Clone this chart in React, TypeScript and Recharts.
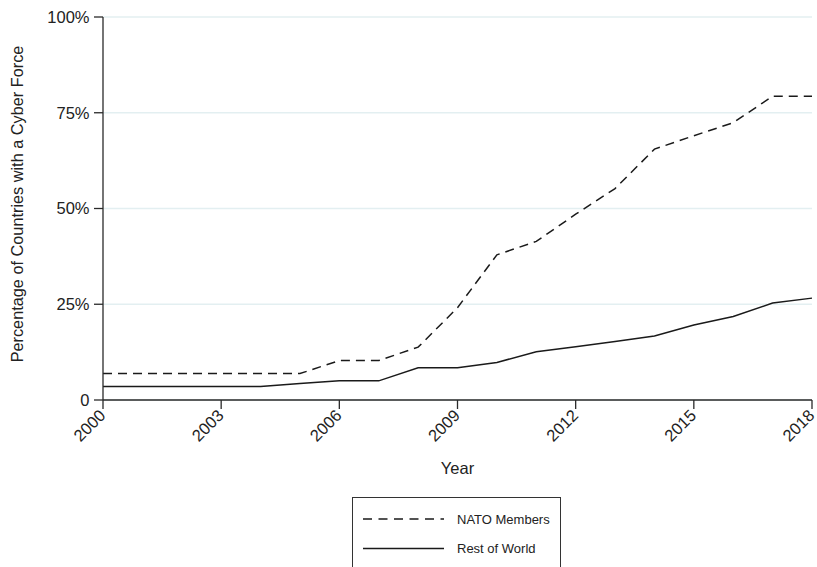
import React from "react";
import { LineChart, Line, XAxis, YAxis, CartesianGrid } from "recharts";

const years = [2000, 2001, 2002, 2003, 2004, 2005, 2006, 2007, 2008, 2009, 2010, 2011, 2012, 2013, 2014, 2015, 2016, 2017, 2018];
const natoMembers = [6.9, 6.9, 6.9, 6.9, 6.9, 6.9, 10.3, 10.3, 13.8, 24.1, 37.9, 41.4, 48.5, 55.2, 65.5, 69.0, 72.4, 79.3, 79.3];
const restOfWorld = [3.5, 3.5, 3.5, 3.5, 3.5, 4.3, 5.0, 5.0, 8.4, 8.4, 9.8, 12.6, 13.9, 15.3, 16.7, 19.6, 21.8, 25.3, 26.6];
const xTicks = [2000, 2003, 2006, 2009, 2012, 2015, 2018];
const yTicks = [0, 25, 50, 75, 100];
const seriesNames = ["NATO Members", "Rest of World"];

const data = years.map((y, i) => ({ year: y, nato: natoMembers[i], rest: restOfWorld[i] }));

const FONT = "'Liberation Sans', Arial, Helvetica, sans-serif";
const TEXT = "#222";
const AXIS = "#2a2a2a";
const FS = 16.5;

const XTick = (props: any) => {
  const { x, y, payload } = props;
  return (
    <g transform={`translate(${x + 3.5},${y + 5.5})`}>
      <text transform="rotate(-45)" textAnchor="end" fontSize={FS} fill={TEXT} fontFamily={FONT}>
        {payload.value}
      </text>
    </g>
  );
};

export default function App() {
  return (
    <div style={{ position: "absolute", left: 0, top: 0, width: 817, height: 567, background: "#fff", fontFamily: FONT }}>
      <LineChart width={817} height={567} data={data} margin={{ top: 17, right: 5, bottom: 107, left: 0 }}>
        <CartesianGrid vertical={false} stroke="#e3eff1" strokeWidth={1.5} />
        <XAxis
          dataKey="year"
          type="number"
          domain={[2000, 2018]}
          ticks={xTicks}
          height={60}
          tickSize={9}
          stroke={AXIS}
          strokeWidth={1.3}
          tick={<XTick />}
          interval={0}
          label={{
            content: (p: any) => {
              const vb = p.viewBox;
              return (
                <text x={vb.x + vb.width / 2} y={474} textAnchor="middle" fontSize={FS} fill={TEXT} fontFamily={FONT}>
                  Year
                </text>
              );
            },
          }}
        />
        <YAxis
          type="number"
          domain={[0, 100]}
          ticks={yTicks}
          width={103}
          tickSize={9}
          tickMargin={4.5}
          stroke={AXIS}
          strokeWidth={1.3}
          interval={0}
          tick={{ fontSize: FS, fill: TEXT, fontFamily: FONT }}
          tickFormatter={(v: number) => (v === 0 ? "0" : `${v}%`)}
          label={{
            content: () => (
              <text x={23} y={204} transform="rotate(-90 23 204)" textAnchor="middle" fontSize={16.3} fill={TEXT} fontFamily={FONT}>
                Percentage of Countries with a Cyber Force
              </text>
            ),
          }}
        />
        <Line dataKey="nato" name={seriesNames[0]} stroke="#1a1a1a" strokeWidth={1.5} strokeDasharray="9 6" dot={false} isAnimationActive={false} type="linear" />
        <Line dataKey="rest" name={seriesNames[1]} stroke="#1a1a1a" strokeWidth={1.5} dot={false} isAnimationActive={false} type="linear" />
      </LineChart>
      <div
        style={{
          position: "absolute",
          left: 352,
          top: 497,
          width: 209,
          height: 80,
          border: "1px solid #333",
          boxSizing: "border-box",
          background: "#fff",
        }}
      >
        <svg width={209} height={80} style={{ position: "absolute", left: 0, top: 0 }}>
          <line x1={10} y1={21} x2={91} y2={21} stroke="#1a1a1a" strokeWidth={1.5} strokeDasharray="9 6.5" />
          <text x={104} y={25.5} fontSize={13} fill={TEXT} fontFamily={FONT}>{seriesNames[0]}</text>
          <line x1={10} y1={50.5} x2={91} y2={50.5} stroke="#1a1a1a" strokeWidth={1.5} />
          <text x={104} y={55} fontSize={13} fill={TEXT} fontFamily={FONT}>{seriesNames[1]}</text>
        </svg>
      </div>
    </div>
  );
}
